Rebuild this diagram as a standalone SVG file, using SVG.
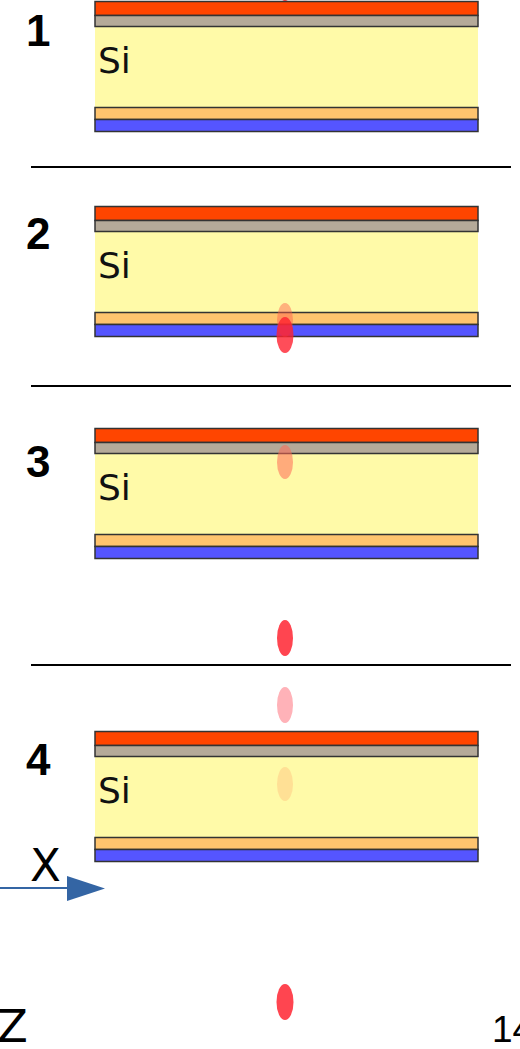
<svg xmlns="http://www.w3.org/2000/svg" width="520" height="1049" viewBox="0 0 520 1049">
  <style>
    .lay { stroke: #333; stroke-width: 1.5; }
    .red { fill: #ff4500; }
    .gray { fill: #b5aa99; }
    .si { fill: #fffaa8; stroke: none; }
    .org { fill: #ffc46e; }
    .blu { fill: #5555ff; }
    .num { font-family: "Liberation Sans", Arial, sans-serif; font-weight: bold; font-size: 44px; fill: #000; }
    .lbl { font-family: "DejaVu Sans", sans-serif; font-size: 36px; fill: #111; }
    .axis { font-family: "DejaVu Sans", sans-serif; font-size: 45px; fill: #000; }
    .sep { stroke: #000; stroke-width: 2; }
  </style>
  <defs>
    <g id="stack">
      <rect class="si" x="95" y="25" width="383" height="82"/>
      <rect class="lay red" x="95" y="0.5" width="383" height="14"/>
      <rect class="lay gray" x="95" y="14.5" width="383" height="11"/>
      <rect class="lay org" x="95" y="106.5" width="383" height="12"/>
      <rect class="lay blu" x="95" y="118.5" width="383" height="12"/>
      <text class="lbl" x="98" y="72">Si</text>
    </g>
  </defs>

  <!-- separators -->
  <g id="separators">
    <line class="sep" x1="31" y1="167" x2="511" y2="167"/>
    <line class="sep" x1="31" y1="386" x2="511" y2="386"/>
    <line class="sep" x1="31" y1="665" x2="511" y2="665"/>
  </g>

  <!-- step 1 -->
  <g id="panel1">
    <use href="#stack" transform="translate(0,1)"/>
    <text class="num" x="26" y="46">1</text>
    <ellipse cx="285" cy="-16" rx="8" ry="17" fill="#e0101a" opacity="0.8"/>
  </g>

  <!-- step 2 -->
  <g id="panel2">
    <use href="#stack" transform="translate(0,206)"/>
    <text class="num" x="26" y="249">2</text>
    <ellipse cx="285" cy="320" rx="8" ry="17" fill="#ff5a4a" opacity="0.45"/>
    <ellipse cx="285" cy="335" rx="8.5" ry="18" fill="#ff2030" opacity="0.8"/>
  </g>

  <!-- step 3 -->
  <g id="panel3">
    <use href="#stack" transform="translate(0,428)"/>
    <text class="num" x="26" y="477">3</text>
    <ellipse cx="285" cy="462" rx="8" ry="17" fill="#ff6a55" opacity="0.55"/>
    <ellipse cx="285" cy="638" rx="8" ry="18" fill="#ff4550"/>
  </g>

  <!-- step 4 -->
  <g id="panel4">
    <use href="#stack" transform="translate(0,731)"/>
    <text class="num" x="26" y="775">4</text>
    <ellipse cx="285" cy="705" rx="8" ry="18" fill="#ffb2b8"/>
    <ellipse cx="285" cy="784" rx="8" ry="17" fill="#ffd990" opacity="0.8"/>
    <ellipse cx="285" cy="1002" rx="8.5" ry="18" fill="#ff4550"/>
  </g>

  <!-- axes -->
  <g id="axes">
    <line x1="0" y1="888" x2="70" y2="888" stroke="#3465a4" stroke-width="2"/>
    <polygon points="67,876 105,888.5 67,901" fill="#3465a4"/>
    <text class="axis" x="30" y="881">X</text>
    <text class="axis" x="-3" y="1042">Z</text>
    <text x="492" y="1042" font-family="Liberation Sans, Arial, sans-serif" font-size="37" fill="#000">14</text>
  </g>
</svg>
